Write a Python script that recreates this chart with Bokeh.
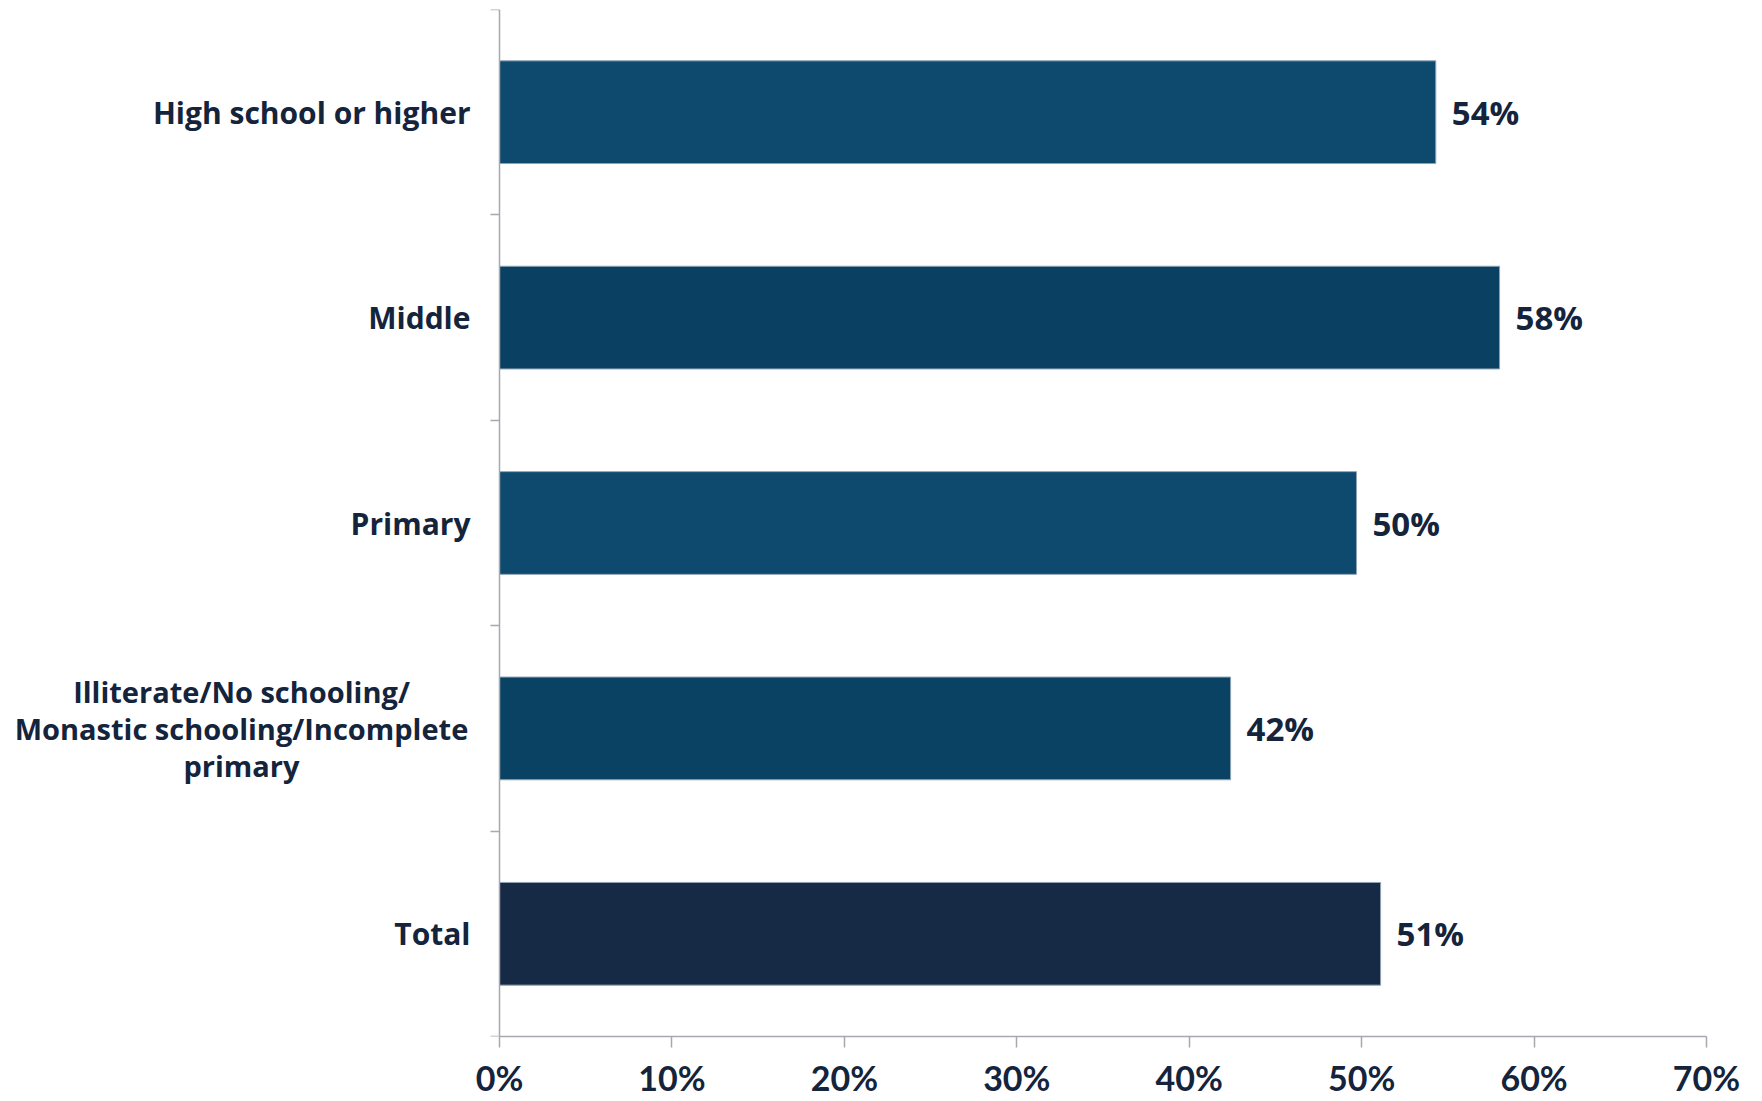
from bokeh.plotting import figure
from bokeh.models import (ColumnDataSource, FactorRange, Range1d, LinearAxis,
                          FixedTicker, PrintfTickFormatter)
from bokeh.core.properties import value
from bokeh.embed import file_html
from bokeh.resources import INLINE

# ---- data ----
categories = ["High school or higher", "Middle", "Primary",
              "Illiterate/No schooling/Monastic schooling/Incomplete primary", "Total"]
category_labels = ["High school or higher", "Middle", "Primary",
                   "Illiterate/No schooling/\nMonastic schooling/Incomplete\nprimary", "Total"]
values = [54.3, 58.0, 49.7, 42.4, 51.1]
value_labels = ["54%", "58%", "50%", "42%", "51%"]
bar_colors = ["#0d4a6d", "#0a4062", "#0d4a6d", "#0a4263", "#172a45"]
x_ticks = [0, 10, 20, 30, 40, 50, 60, 70]
x_max = 70

# ---- layout / style constants ----
TEXT = "#14243c"
AXIS = "#a7a9ae"
W, H = 1760, 1100
FRAME_LEFT = 5           # frame starts here; category labels live inside the frame
ZERO_X = 499             # page x of the value axis origin
RIGHT = 1706             # page x of 70%
LABEL_GAP = 29           # px between category labels and the y axis
MULTI_WIDTH = 458        # approx. width of the widest wrapped line (px)
LINE_H = 37              # line spacing of wrapped labels (px)
x_start = -x_max * (ZERO_X - FRAME_LEFT) / (RIGHT - ZERO_X)

source = ColumnDataSource(dict(cat=categories, val=values, lab=value_labels, col=bar_colors))

# category labels: single-line ones right-aligned, wrapped one centred line by line
s_cat, s_txt = [], []
m_cat, m_txt, m_yo = [], [], []
for c, lab in zip(categories, category_labels):
    lines = lab.split("\n")
    n = len(lines)
    if n == 1:
        s_cat.append(c)
        s_txt.append(lab)
    else:
        for i, line in enumerate(lines):
            m_cat.append(c)
            m_txt.append(line)
            m_yo.append((i - (n - 1) / 2) * LINE_H)
single_src = ColumnDataSource(dict(cat=s_cat, txt=s_txt))
multi_src = ColumnDataSource(dict(cat=m_cat, txt=m_txt, yo=m_yo))

p = figure(width=W, height=H, output_backend="svg", toolbar_location=None,
           y_range=FactorRange(factors=list(reversed(categories)), range_padding=0),
           x_range=Range1d(x_start, x_max), y_axis_location=None,
           min_border_left=FRAME_LEFT, min_border_right=W - RIGHT,
           min_border_top=9, min_border_bottom=62)
p.outline_line_color = None
p.grid.visible = False
p.background_fill_color = "white"

p.hbar(y="cat", right="val", left=0, height=0.5, source=source,
       fill_color="col", line_color="#8fa3b5", line_width=1)

p.text(x="val", y="cat", text="lab", source=source, x_offset=16,
       text_baseline="middle", text_align="left",
       text_font=value("Open Sans"), text_font_style="bold",
       text_font_size="33px", text_color=TEXT)

p.text(x=0, y="cat", text="txt", source=single_src, x_offset=-LABEL_GAP,
       text_baseline="middle", text_align="right",
       text_font=value("Open Sans"), text_font_style="bold",
       text_font_size="30px", text_color=TEXT)

p.text(x=0, y="cat", text="txt", source=multi_src,
       x_offset=-LABEL_GAP - MULTI_WIDTH / 2, y_offset="yo",
       text_baseline="middle", text_align="center",
       text_font=value("Open Sans"), text_font_style="bold",
       text_font_size="29px", text_color=TEXT)

# x axis
xa = p.xaxis[0]
xa.ticker = FixedTicker(ticks=x_ticks)
xa.bounds = (0, x_max)
xa.formatter = PrintfTickFormatter(format="%d%%")
xa.axis_line_color = AXIS
xa.axis_line_width = 1.5
xa.major_tick_line_color = AXIS
xa.major_tick_line_width = 1.5
xa.major_tick_out = 11
xa.major_tick_in = 0
xa.minor_tick_line_color = None
xa.major_label_text_font = "Lato"
xa.major_label_text_font_style = "bold"
xa.major_label_text_font_size = "34px"
xa.major_label_text_color = TEXT
xa.major_label_standoff = 9

# y axis at value 0 with ticks between categories (synthetic coords)
tick_axis = LinearAxis(ticker=FixedTicker(ticks=list(range(len(categories) + 1))),
                       fixed_location=0)
tick_axis.axis_line_color = AXIS
tick_axis.axis_line_width = 1.5
tick_axis.major_tick_line_color = AXIS
tick_axis.major_tick_line_width = 1.5
tick_axis.major_tick_out = 9
tick_axis.major_tick_in = 0
tick_axis.minor_tick_line_color = None
tick_axis.major_label_text_font_size = "0px"
tick_axis.major_label_text_color = None
tick_axis.major_label_standoff = 0
p.add_layout(tick_axis, "left")

open("out.html", "w").write(file_html(p, INLINE))
